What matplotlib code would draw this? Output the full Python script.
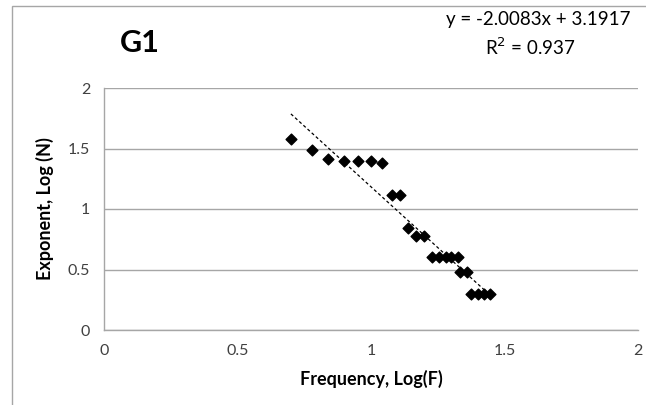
import numpy as np
import matplotlib
matplotlib.use("Agg")
import matplotlib.pyplot as plt
from matplotlib.patches import Rectangle

plt.rcParams["font.family"] = ["Lato", "DejaVu Sans"]

# G1 data: log frequency vs log count
log_f = [0.70, 0.78, 0.84, 0.90, 0.95, 1.00, 1.04, 1.08, 1.11, 1.14, 1.17, 1.20,
         1.23, 1.255, 1.28, 1.30, 1.325, 1.335, 1.36, 1.375, 1.40, 1.425, 1.447]
log_n = [1.58, 1.49, 1.415, 1.40, 1.40, 1.40, 1.38, 1.114, 1.114, 0.845, 0.778, 0.778,
         0.602, 0.602, 0.602, 0.602, 0.602, 0.477, 0.477, 0.301, 0.301, 0.301, 0.301]

# Excel trendline as shown
slope = -2.0083
intercept = 3.1917
r2 = 0.937

xticks = [0, 0.5, 1, 1.5, 2]
yticks = [0, 0.5, 1, 1.5, 2]

fig = plt.figure(figsize=(6.46, 4.05), dpi=100)
# chart frame (only left/top edges visible in the crop)
fig.patches.append(Rectangle((12 / 646, -0.1), 1.2, 1 - 6 / 405 + 0.1,
                             transform=fig.transFigure, fill=False,
                             edgecolor="#a6a6a6", linewidth=1.0))

ax = fig.add_axes([104 / 646, 1 - 330 / 405, 534 / 646, 242 / 405])
ax.scatter(log_f, log_n, marker="D", s=30, color="black", zorder=3)

xs = np.array([min(log_f), max(log_f)])
ax.plot(xs, slope * xs + intercept, color="black", linestyle=(0, (2.5, 2)),
        linewidth=0.9, zorder=2)

ax.set_xlim(0, 2)
ax.set_ylim(0, 2)
ax.set_xticks(xticks)
ax.set_yticks(yticks)
ax.set_xticklabels(["0", "0.5", "1", "1.5", "2"])
ax.set_yticklabels(["0", "0.5", "1", "1.5", "2"])
ax.tick_params(length=0, labelsize=11.5, colors="#404040", pad=10)
ax.yaxis.grid(True, color="#a6a6a6", linewidth=1.0)
ax.set_axisbelow(True)
for side in ["top", "right"]:
    ax.spines[side].set_visible(False)
for side in ["left", "bottom"]:
    ax.spines[side].set_color("#a6a6a6")
    ax.spines[side].set_linewidth(1.0)

ax.set_xlabel("Frequency, Log(F)", fontsize=13, fontweight="bold", labelpad=9)
ax.set_ylabel("Exponent, Log (N)", fontsize=13, fontweight="bold", labelpad=10)

fig.text(140 / 646, 1 - 43 / 405, "G1", fontsize=22, fontweight="bold",
         ha="center", va="center")
fig.text(538 / 646, 1 - 19 / 405, f"y = {slope}x + {intercept}", fontsize=13.5,
         ha="center", va="center")
fig.text(530 / 646, 1 - 47 / 405, f"R$^2$ = {r2}", fontsize=13.5,
         ha="center", va="center")

fig.savefig("out.png", dpi=100)
